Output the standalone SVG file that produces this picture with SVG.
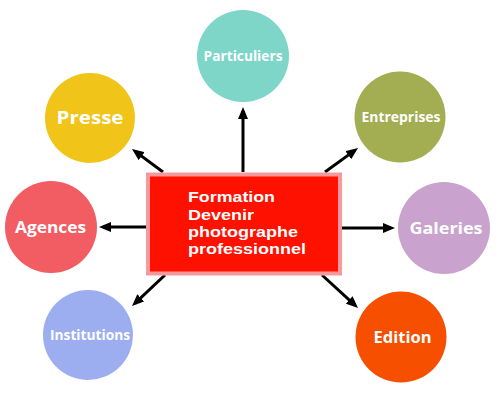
<svg xmlns="http://www.w3.org/2000/svg" width="500" height="408" viewBox="0 0 500 408">
<style>
.lbl{font-family:"Open Sans","DejaVu Sans",sans-serif;font-weight:700;fill:#ffffff;text-anchor:middle}
.ctr{font-family:"Liberation Sans","Arial",sans-serif;font-weight:700;fill:#ffffff;font-size:15px}
.con{stroke:#000000;stroke-width:3;fill:none;marker-end:url(#ah)}
</style>
<defs>
<marker id="ah" markerUnits="userSpaceOnUse" markerWidth="12" markerHeight="10" refX="8" refY="5" orient="auto">
<path d="M0,0 L12,5 L0,10 z" fill="#000000"/>
</marker>
</defs>
<rect width="500" height="408" fill="#ffffff"/>
<g id="connectors">
<line class="con" x1="243" y1="172" x2="243" y2="111"/>
<line class="con" x1="163" y1="172" x2="135.2" y2="151.4"/>
<line class="con" x1="325" y1="172" x2="354.8" y2="150.4"/>
<line class="con" x1="146" y1="227" x2="103" y2="227"/>
<line class="con" x1="342" y1="228" x2="391" y2="228"/>
<line class="con" x1="165" y1="275" x2="134.9" y2="303.3"/>
<line class="con" x1="322" y1="275" x2="355.1" y2="305.3"/>
</g>
<g id="center">
<rect x="148" y="174.5" width="192" height="99" fill="#FF1100" stroke="#F7999C" stroke-width="4"/>
<text class="ctr" x="188" y="202.3" textLength="87" lengthAdjust="spacingAndGlyphs">Formation</text>
<text class="ctr" x="188" y="219.5" textLength="66" lengthAdjust="spacingAndGlyphs">Devenir</text>
<text class="ctr" x="188" y="236.8" textLength="110" lengthAdjust="spacingAndGlyphs">photographe</text>
<text class="ctr" x="188" y="254.3" textLength="118" lengthAdjust="spacingAndGlyphs">professionnel</text>
</g>
<g id="particuliers">
<circle cx="243" cy="56" r="46" fill="#7DD6C8"/>
<text class="lbl" x="243" y="61" font-size="14" textLength="79" lengthAdjust="spacingAndGlyphs">Particuliers</text>
</g>
<g id="presse">
<circle cx="90" cy="118" r="45" fill="#F0C419"/>
<text class="lbl" x="90" y="124" font-size="18" textLength="67" lengthAdjust="spacingAndGlyphs">Presse</text>
</g>
<g id="entreprises">
<circle cx="400" cy="117" r="45.5" fill="#A2AE51"/>
<text class="lbl" x="401" y="122" font-size="14" textLength="79" lengthAdjust="spacingAndGlyphs">Entreprises</text>
</g>
<g id="agences">
<circle cx="51" cy="227" r="46" fill="#F25C63"/>
<text class="lbl" x="50.5" y="233" font-size="16" textLength="71" lengthAdjust="spacingAndGlyphs">Agences</text>
</g>
<g id="galeries">
<circle cx="444" cy="228" r="46" fill="#C9A3CE"/>
<text class="lbl" x="446" y="234" font-size="16" textLength="73" lengthAdjust="spacingAndGlyphs">Galeries</text>
</g>
<g id="institutions">
<circle cx="88" cy="335" r="45" fill="#9CAEF0"/>
<text class="lbl" x="90" y="339.5" font-size="14" textLength="80" lengthAdjust="spacingAndGlyphs">Institutions</text>
</g>
<g id="edition">
<circle cx="401" cy="337" r="45.5" fill="#F64F00"/>
<text class="lbl" x="402.5" y="343" font-size="16" textLength="58" lengthAdjust="spacingAndGlyphs">Edition</text>
</g>
</svg>
